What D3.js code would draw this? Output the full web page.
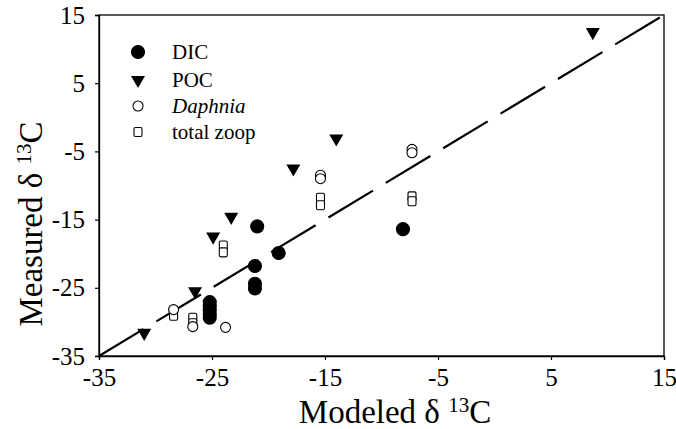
<!DOCTYPE html>
<html><head><meta charset="utf-8">
<script src="https://cdn.jsdelivr.net/npm/d3@7"></script>
<style>body{margin:0;background:#fff}svg{display:block}text{font-family:"Liberation Serif","Times New Roman",serif;fill:#000}</style>
</head><body><svg id="c" width="676" height="429"></svg>
<script>
const ticks = [-35, -25, -15, -5, 5, 15];
const dicX = [-21.0, -19.1, -21.2, -21.2, -21.2, -25.2, -25.2, -25.2, -25.2, -25.2, -8.1];
const dicY = [-16.0, -19.9, -21.8, -24.4, -25.1, -27.1, -27.7, -28.3, -28.9, -29.4, -16.4];
const pocX = [-31.0, -26.5, -24.9, -23.3, -17.8, -14.0, 8.7];
const pocY = [-31.6, -25.5, -17.5, -14.6, -7.5, -3.1, 12.5];
const daphX = [-28.4, -26.7, -23.8, -15.4, -15.4, -7.3, -7.3];
const daphY = [-28.2, -30.7, -30.8, -8.5, -9.0, -4.7, -5.2];
const zoopX = [-28.4, -26.7, -26.7, -24.0, -24.0, -15.4, -15.4, -7.3, -7.3];
const zoopY = [-29.1, -29.4, -30.2, -18.8, -19.8, -11.8, -12.9, -11.6, -12.3];
const legendLabels = ["DIC", "POC", "Daphnia", "total zoop"];
const oneToOne = [-35, 15];

const svg = d3.select("#c");
const x = d3.scaleLinear().domain([-35, 15]).range([99, 664]);
const y = d3.scaleLinear().domain([-35, 15]).range([356, 15]);

// frame
svg.append("rect").attr("x", 99).attr("y", 15).attr("width", 565).attr("height", 341)
  .attr("fill", "none").attr("stroke", "#000").attr("stroke-width", 1.3);

const fmt = d => String(d);
const xa = svg.append("g").attr("transform", "translate(0,356)")
  .call(d3.axisBottom(x).tickValues(ticks).tickSize(4).tickPadding(8).tickFormat(fmt));
const ya = svg.append("g").attr("transform", "translate(99,0)")
  .call(d3.axisLeft(y).tickValues(ticks).tickSize(4).tickPadding(10).tickFormat(fmt));
[xa, ya].forEach(a => {
  a.select(".domain").attr("stroke", "#000").attr("stroke-width", 1.3);
  a.selectAll("text").style("font-family", '"Liberation Serif",serif').style("font-size", "25px").attr("fill", "#000");
  a.selectAll("line").attr("stroke", "#000").attr("stroke-width", 1.2);
});
xa.selectAll("text").attr("dy", "0.72em");

// 1:1 dashed line
svg.append("line").attr("x1", x(oneToOne[0])).attr("y1", y(oneToOne[0]))
  .attr("x2", x(oneToOne[1])).attr("y2", y(oneToOne[1]))
  .attr("stroke", "#000").attr("stroke-width", 2.2).attr("stroke-dasharray", "52,15");

const zip = (a, b) => a.map((v, i) => [v, b[i]]);
const tri = d3.symbol().type(d3.symbolTriangle).size(85);

function drawCircle(g, cx, cy, r, filled) {
  g.append("circle").attr("cx", cx).attr("cy", cy).attr("r", r)
    .attr("fill", filled ? "#000" : "#fff").attr("stroke", "#000").attr("stroke-width", 1.1);
}
function drawTri(g, cx, cy) {
  g.append("path").attr("d", tri()).attr("transform", `translate(${cx},${cy}) rotate(180)`).attr("fill", "#000");
}
function drawSq(g, cx, cy) {
  g.append("rect").attr("x", cx - 4).attr("y", cy - 4.5).attr("width", 8).attr("height", 9).attr("rx", 1.5)
    .attr("fill", "#fff").attr("stroke", "#000").attr("stroke-width", 1.1);
}

const pts = svg.append("g");
zip(zoopX, zoopY).forEach(([a, b]) => drawSq(pts, x(a), y(b)));
zip(daphX, daphY).forEach(([a, b]) => drawCircle(pts, x(a), y(b), 5, false));
zip(pocX, pocY).forEach(([a, b]) => drawTri(pts, x(a), y(b)));
zip(dicX, dicY).forEach(([a, b]) => drawCircle(pts, x(a), y(b), 6.5, true));

// legend
const lg = svg.append("g");
const ly = [52, 80, 106, 132];
drawCircle(lg, 138, ly[0], 6.5, true);
drawTri(lg, 138, ly[1]);
drawCircle(lg, 138, ly[2], 5, false);
drawSq(lg, 138, ly[3]);
legendLabels.forEach((t, i) => {
  lg.append("text").attr("x", 172).attr("y", ly[i] + 7).style("font-size", "21px")
    .style("font-style", i === 2 ? "italic" : "normal").text(t);
});

// axis titles
const xt = svg.append("text").attr("x", 395).attr("y", 423).attr("text-anchor", "middle").style("font-size", "33px");
xt.append("tspan").text("Modeled \u03b4 ");
xt.append("tspan").attr("dy", -11).style("font-size", "21px").text("13");
xt.append("tspan").attr("dy", 11).text("C");

const yt = svg.append("text").attr("transform", "translate(42,224) rotate(-90)").attr("text-anchor", "middle").style("font-size", "33px");
yt.append("tspan").text("Measured \u03b4 ");
yt.append("tspan").attr("dy", -11).style("font-size", "21px").text("13");
yt.append("tspan").attr("dy", 11).text("C");
</script></body></html>
